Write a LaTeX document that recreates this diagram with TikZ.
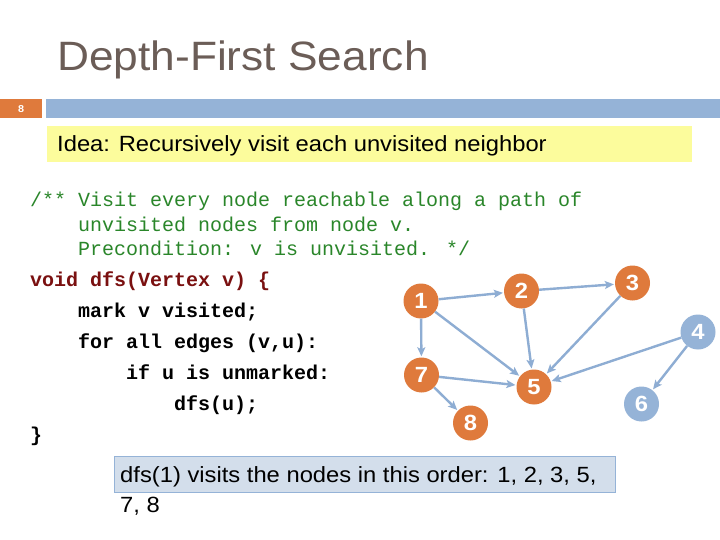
\documentclass[tikz,border=0pt]{standalone}
\usepackage{fontspec}
\setmainfont{Liberation Sans}
\newfontfamily\sansw[FakeStretch=1.08]{Liberation Sans}
\newfontfamily\monof{Liberation Mono}
\usetikzlibrary{arrows.meta}
\definecolor{titlec}{HTML}{6B5D57}
\definecolor{orangec}{HTML}{DF7A3C}
\definecolor{barblue}{HTML}{95B3D7}
\definecolor{ideay}{HTML}{FCFC9C}
\definecolor{commentc}{HTML}{2A862A}
\definecolor{codered}{HTML}{7A1010}
\definecolor{ansfill}{HTML}{D3DEEB}
\definecolor{edgec}{HTML}{8EADD3}
\tikzset{
  vtx/.style={circle, fill=orangec, minimum size=35pt, inner sep=0pt, text=white, font=\fontsize{22}{26}\bfseries\sansw},
  vtxb/.style={vtx, fill=barblue},
  edge/.style={draw=edgec, line width=2.4pt, -{Stealth[length=9pt,width=8pt,inset=2pt]}, shorten >=1pt},
  comment/.style={anchor=base west, inner sep=0pt, text=commentc, font=\fontsize{20}{24}\monof},
  code/.style={anchor=base west, inner sep=0pt, font=\fontsize{20}{24}\monof\bfseries},
  sanstext/.style={anchor=base west, inner sep=0pt, font=\fontsize{22}{26}\sansw}
}
\begin{document}
\begin{tikzpicture}[x=1pt,y=-1pt]
\useasboundingbox (0,0) rectangle (720,540);
\fill[white] (0,0) rectangle (720,540);
% title
\node[anchor=base west, inner sep=0pt, text=titlec, font=\fontsize{41}{49}\sansw] (title) at (57,71) {Depth-First Search};
% header bar
\node[fill=orangec, minimum width=42pt, minimum height=19pt, inner sep=0pt, anchor=north west, text=white, font=\fontsize{10}{12}\bfseries\sansw] (num) at (0,99) {8};
\node[fill=barblue, minimum width=674pt, minimum height=19pt, inner sep=0pt, anchor=north west] (bar) at (46,99) {};
% idea box
\node[fill=ideay, minimum width=645pt, minimum height=36pt, inner sep=0pt, anchor=north west] (ideabox) at (47,126) {};
\node[sanstext] (idea) at (57,152) {Idea: Recursively visit each unvisited neighbor};
% comment
\node[comment] (c1) at (30,207) {/** Visit every node reachable along a path of};
\node[comment] (c2) at (78,231) {unvisited nodes from node v.};
\node[comment] (c3) at (78,255) {Precondition: v is unvisited. */};
% code
\node[code, text=codered] (k1) at (30,286) {void dfs(Vertex v) \{};
\node[code] (k2) at (78,317) {mark v visited;};
\node[code] (k3) at (78,348) {for all edges (v,u):};
\node[code] (k4) at (126,379) {if u is unmarked:};
\node[code] (k5) at (174,410) {dfs(u);};
\node[code] (k6) at (30,441) {\}};
% graph
\node[vtx] (n1) at (421,301) {1};
\node[vtx] (n2) at (521.5,291) {2};
\node[vtx] (n3) at (632.5,283) {3};
\node[vtxb] (n4) at (698,332) {4};
\node[vtx] (n5) at (534,387) {5};
\node[vtxb] (n6) at (641.5,404) {6};
\node[vtx] (n7) at (421.5,375) {7};
\node[vtx] (n8) at (470.5,423) {8};
\draw[edge] (n1) -- (n2);
\draw[edge] (n2) -- (n3);
\draw[edge] (n1) -- (n7);
\draw[edge] (n1) -- (n5);
\draw[edge] (n2) -- (n5);
\draw[edge] (n3) -- (n5);
\draw[edge] (n7) -- (n5);
\draw[edge] (n7) -- (n8);
\draw[edge] (n4) -- (n5);
\draw[edge] (n4) -- (n6);
% answer box
\node[fill=ansfill, draw=barblue, line width=1pt, minimum width=501pt, minimum height=36pt, inner sep=0pt, anchor=north west] (ansbox) at (114,456) {};
\node[sanstext] (ans1) at (120,482) {dfs(1) visits the nodes in this order: 1, 2, 3, 5,};
\node[sanstext] (ans2) at (120,512) {7, 8};
\end{tikzpicture}
\end{document}
